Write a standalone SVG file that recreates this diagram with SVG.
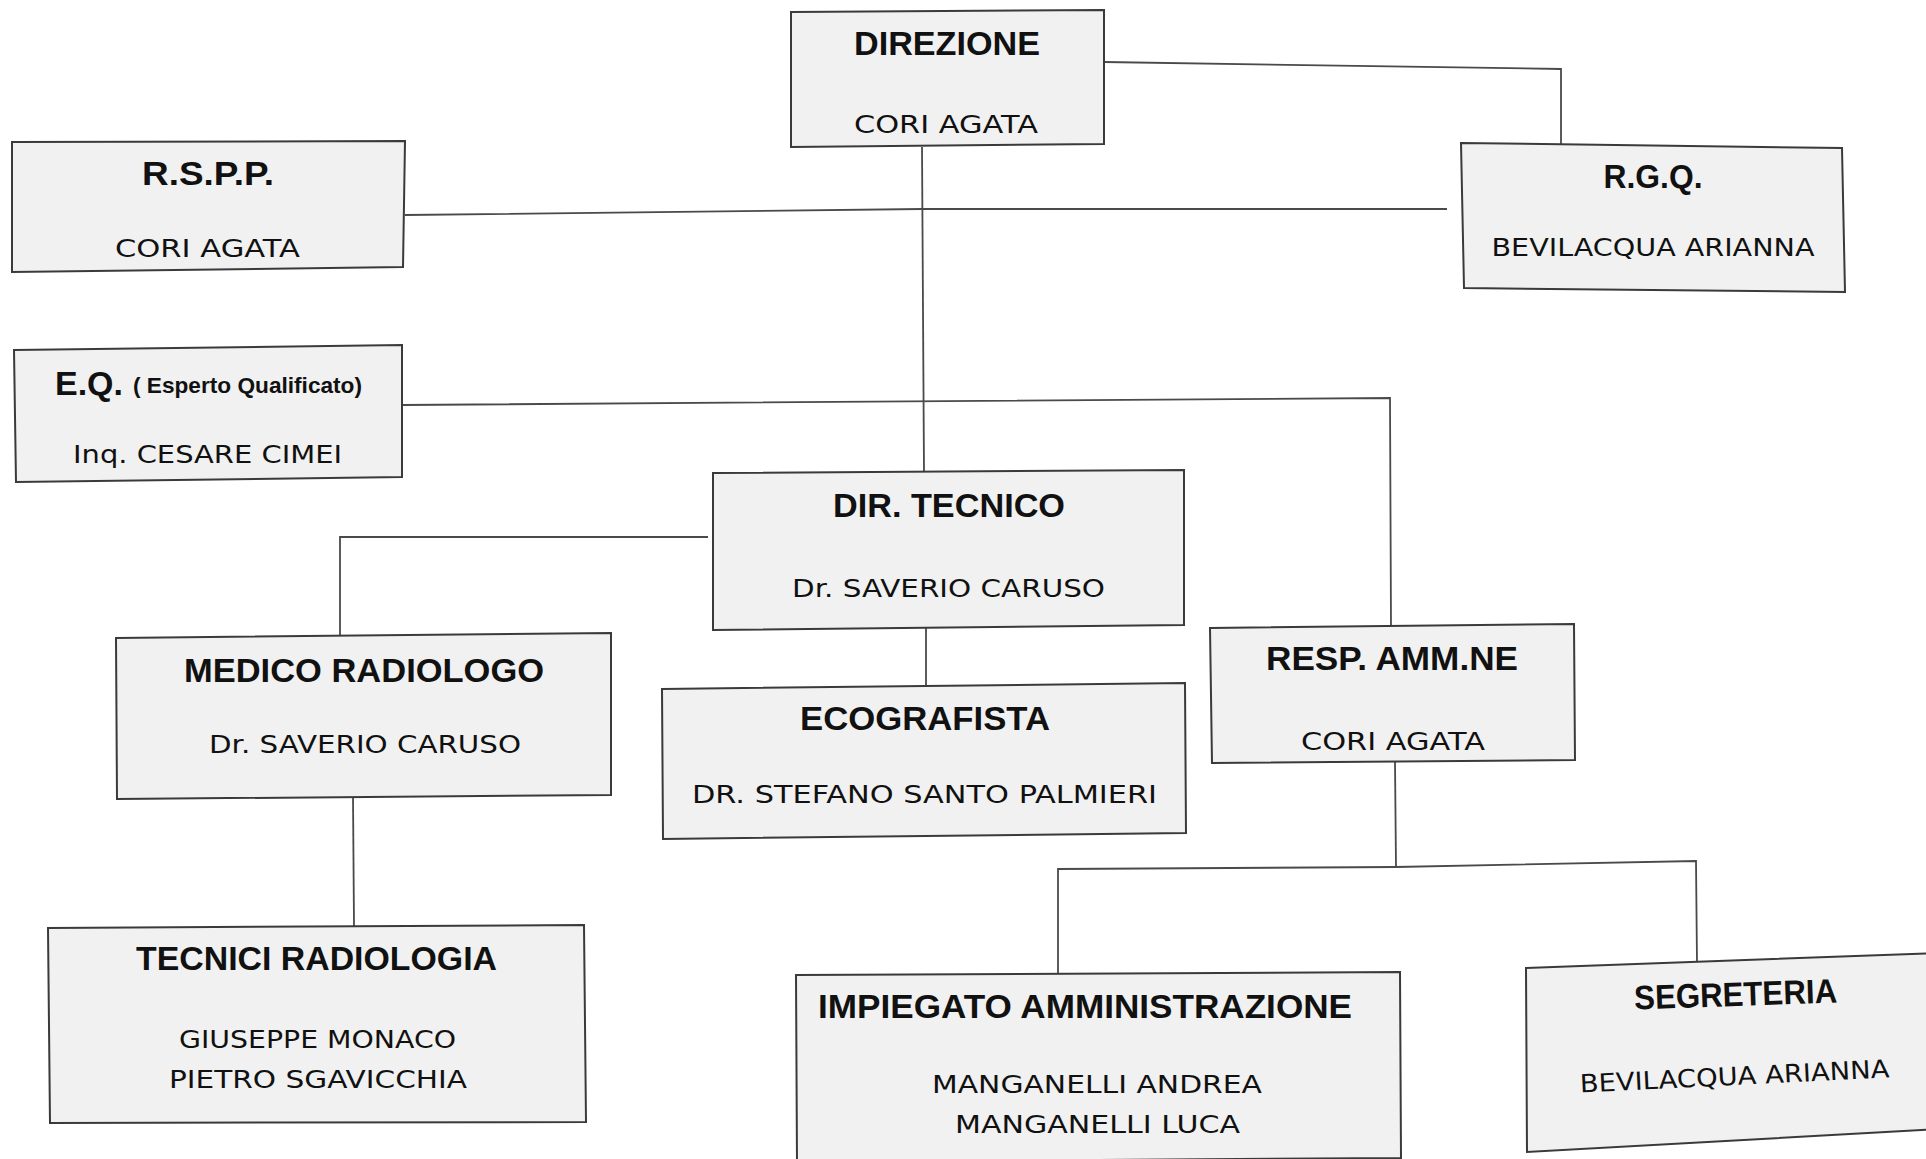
<svg xmlns="http://www.w3.org/2000/svg" width="1926" height="1159" viewBox="0 0 1926 1159">
<style>
.box{fill:#f1f1f1;stroke:#3a3a3a;stroke-width:2}
.ln{fill:none;stroke:#4a4a4a;stroke-width:1.8}
.t{font-family:"Liberation Sans",Arial,sans-serif;font-weight:bold;font-size:34px;fill:#111;text-anchor:middle}
.s{font-family:"Liberation Sans",Arial,sans-serif;font-weight:bold;font-size:22px;fill:#111}
.n{font-family:"DejaVu Sans","Noto Sans",sans-serif;font-size:25px;fill:#111;text-anchor:middle}
</style>
<rect width="1926" height="1159" fill="#ffffff"/>
<g id="connectors">
<polyline class="ln" points="1104,62 1561,69 1561,144"/>
<polyline class="ln" points="922,147 924,472"/>
<polyline class="ln" points="405,215 922,209 1447,209"/>
<polyline class="ln" points="402,405 1390,398 1391,627"/>
<polyline class="ln" points="708,537 340,537 340,637"/>
<polyline class="ln" points="926,628 926,686"/>
<polyline class="ln" points="353,797 354,926"/>
<polyline class="ln" points="1395,762 1396,867"/>
<polyline class="ln" points="1058,974 1058,869 1396,867 1696,861 1697,963"/>
</g>
<g id="direzione">
<polygon class="box" points="791,12 1104,10 1104,144 791,147"/>
<text class="t" x="947" y="55" textLength="186" lengthAdjust="spacingAndGlyphs">DIREZIONE</text>
<text class="n" x="946" y="133" textLength="184" lengthAdjust="spacingAndGlyphs">CORI AGATA</text>
</g>
<g id="rspp">
<polygon class="box" points="12,142 405,141 403,267 12,272"/>
<text class="t" x="208" y="185" textLength="132" lengthAdjust="spacingAndGlyphs">R.S.P.P.</text>
<text class="n" x="207.5" y="257" textLength="185" lengthAdjust="spacingAndGlyphs">CORI AGATA</text>
</g>
<g id="rgq">
<polygon class="box" points="1461,143 1842,148 1845,292 1464,288"/>
<text class="t" x="1653" y="188" textLength="99" lengthAdjust="spacingAndGlyphs">R.G.Q.</text>
<text class="n" x="1653" y="256" textLength="323" lengthAdjust="spacingAndGlyphs">BEVILACQUA ARIANNA</text>
</g>
<g id="eq">
<polygon class="box" points="14,350 402,345 402,477 16,482"/>
<text class="t" x="89" y="395" textLength="68" lengthAdjust="spacingAndGlyphs">E.Q.</text>
<text class="s" x="133" y="393" textLength="229" lengthAdjust="spacingAndGlyphs">( Esperto Qualificato)</text>
<text class="n" x="207.5" y="463" textLength="269" lengthAdjust="spacingAndGlyphs">Inq. CESARE CIMEI</text>
</g>
<g id="dir-tecnico">
<polygon class="box" points="713,473 1184,470 1184,625 713,630"/>
<text class="t" x="949" y="517" textLength="232" lengthAdjust="spacingAndGlyphs">DIR. TECNICO</text>
<text class="n" x="948.5" y="597" textLength="313" lengthAdjust="spacingAndGlyphs">Dr. SAVERIO CARUSO</text>
</g>
<g id="medico-radiologo">
<polygon class="box" points="116,638 611,633 611,795 117,799"/>
<text class="t" x="364" y="682" textLength="360" lengthAdjust="spacingAndGlyphs">MEDICO RADIOLOGO</text>
<text class="n" x="365" y="753" textLength="312" lengthAdjust="spacingAndGlyphs">Dr. SAVERIO CARUSO</text>
</g>
<g id="ecografista">
<polygon class="box" points="662,689 1185,683 1186,833 663,839"/>
<text class="t" x="925" y="730" textLength="250" lengthAdjust="spacingAndGlyphs">ECOGRAFISTA</text>
<text class="n" x="924.5" y="803" textLength="465" lengthAdjust="spacingAndGlyphs">DR. STEFANO SANTO PALMIERI</text>
</g>
<g id="resp-amm">
<polygon class="box" points="1210,628 1574,624 1575,760 1212,763"/>
<text class="t" x="1392" y="670" textLength="252" lengthAdjust="spacingAndGlyphs">RESP. AMM.NE</text>
<text class="n" x="1393" y="750" textLength="184" lengthAdjust="spacingAndGlyphs">CORI AGATA</text>
</g>
<g id="tecnici-radiologia">
<polygon class="box" points="48,928 584,925 586,1122 50,1123"/>
<text class="t" x="316.5" y="970" textLength="361" lengthAdjust="spacingAndGlyphs">TECNICI RADIOLOGIA</text>
<text class="n" x="317.5" y="1048" textLength="277" lengthAdjust="spacingAndGlyphs">GIUSEPPE MONACO</text>
<text class="n" x="318" y="1088" textLength="298" lengthAdjust="spacingAndGlyphs">PIETRO SGAVICCHIA</text>
</g>
<g id="impiegato-amministrazione">
<polygon class="box" points="796,975 1400,972 1401,1158 797,1162"/>
<text class="t" x="1085" y="1018" textLength="534" lengthAdjust="spacingAndGlyphs">IMPIEGATO AMMINISTRAZIONE</text>
<text class="n" x="1097" y="1093" textLength="330" lengthAdjust="spacingAndGlyphs">MANGANELLI ANDREA</text>
<text class="n" x="1097.5" y="1133" textLength="285" lengthAdjust="spacingAndGlyphs">MANGANELLI LUCA</text>
</g>
<g id="segreteria">
<polygon class="box" points="1526,968 1940,953 1940,1129 1527,1152"/>
<text class="t" x="1736" y="1006" textLength="203" lengthAdjust="spacingAndGlyphs" transform="rotate(-2 1736 1006)">SEGRETERIA</text>
<text class="n" x="1735" y="1085" textLength="310" lengthAdjust="spacingAndGlyphs" transform="rotate(-2.8 1735 1085)">BEVILACQUA ARIANNA</text>
</g>
</svg>
